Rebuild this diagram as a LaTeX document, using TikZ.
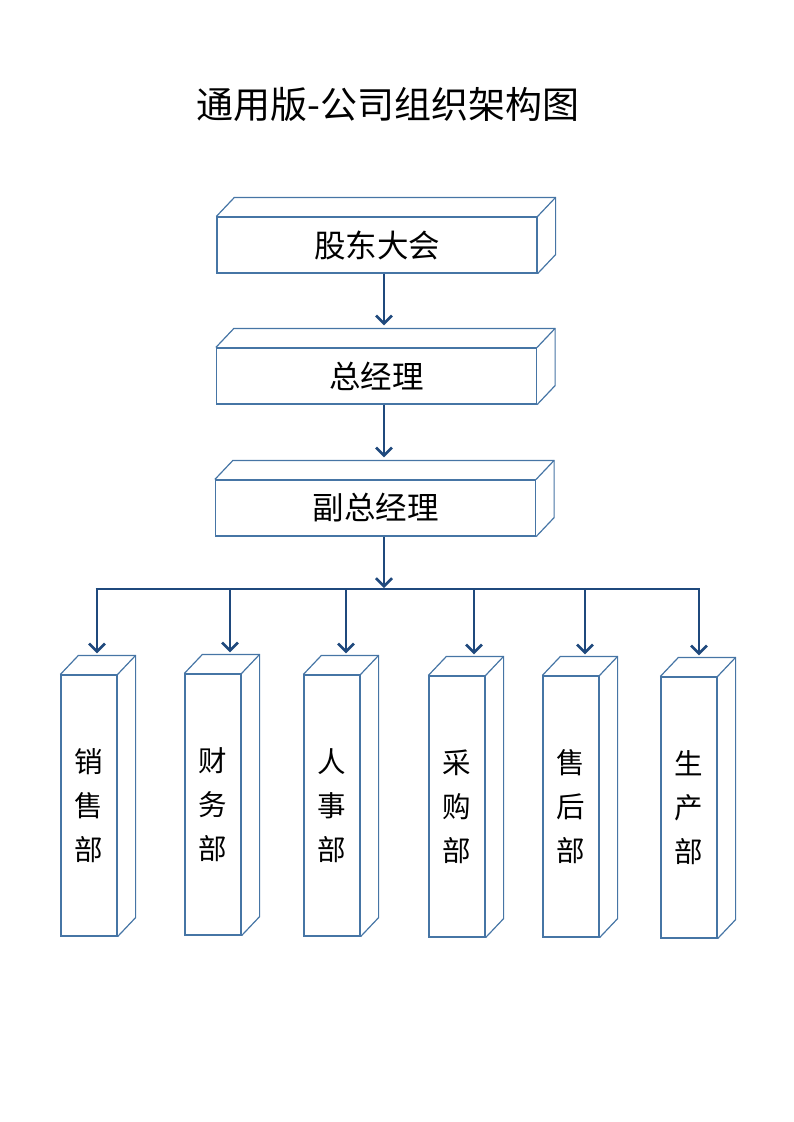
\documentclass[tikz,border=0pt]{standalone}
\usepackage{fontspec}
\setmainfont{Noto Sans CJK SC}
\usetikzlibrary{positioning,arrows.meta}
\definecolor{boxblue}{RGB}{70,117,165}
\definecolor{arrowblue}{RGB}{31,73,125}

\begin{document}
\begin{tikzpicture}[x=1pt,y=-1pt,
		topbox/.style={draw=boxblue,line width=1.2pt,minimum width=320pt,minimum height=56pt,inner sep=0pt,font=\fontsize{31.5}{36}\selectfont},
		deptbox/.style={draw=boxblue,line width=1.2pt,minimum width=56pt,minimum height=261pt,inner sep=0pt,align=center,font=\fontsize{28.5}{44}\selectfont},
		side/.style={draw=boxblue,line width=1.2pt},
		arr/.style={draw=arrowblue,line width=2.8pt,-{Straight Barb[length=8pt,width=16pt,line width=2.6pt]}},
		bar/.style={draw=arrowblue,line width=2.8pt}]
		\useasboundingbox (0,0) rectangle (793,1122);

		% Title
		\node (title) at (388,104) {\fontsize{37}{42}\selectfont 通用版-公司组织架构图};

		% Top levels
		\node[topbox] (b1) at (377,245) {股东大会};
		\node[topbox] (b2) at (376.5,376) {总经理};
		\node[topbox] (b3) at (375.5,508) {副总经理};

		% Departments
		\node[deptbox] (d1) at (89,805.5) {销\\售\\部};
		\node[deptbox] (d2) at (213,804.5) {财\\务\\部};
		\node[deptbox] (d3) at (332,805.5) {人\\事\\部};
		\node[deptbox] (d4) at (457,806.5) {采\\购\\部};
		\node[deptbox] (d5) at (571,806.5) {售\\后\\部};
		\node[deptbox] (d6) at (689,807.5) {生\\产\\部};

		% Depth faces
		\foreach \n in {b1,b2,b3,d1,d2,d3,d4,d5,d6} {
			\draw[side] (\n.north west) -- ([xshift=18pt,yshift=19pt]\n.north west)
				-- ([xshift=18pt,yshift=19pt]\n.north east)
				-- ([xshift=18pt,yshift=19pt]\n.south east) -- (\n.south east);
			\draw[side] (\n.north east) -- ([xshift=18pt,yshift=19pt]\n.north east);
		}

		% Connectors
		\coordinate (trunk) at (384,0);
		\coordinate (split) at (384,589);
		\draw[arr] (b1.south -| trunk) -- ([yshift=22pt]b2.north -| trunk);
		\draw[arr] (b2.south -| trunk) -- ([yshift=22pt]b3.north -| trunk);
		\draw[arr] (b3.south -| trunk) -- ([yshift=1pt]split);

		\foreach \i/\s in {1/8,2/17,3/14,4/17,5/14,6/10}
			\coordinate (t\i) at ([xshift=\s pt,yshift=21pt]d\i.north);
		\draw[bar] ([xshift=-1.4pt]t1 |- split) -- ([xshift=1.4pt]t6 |- split);
		\foreach \i in {1,...,6}
			\draw[arr] (t\i |- split) -- (t\i);
	\end{tikzpicture}
\end{document}
